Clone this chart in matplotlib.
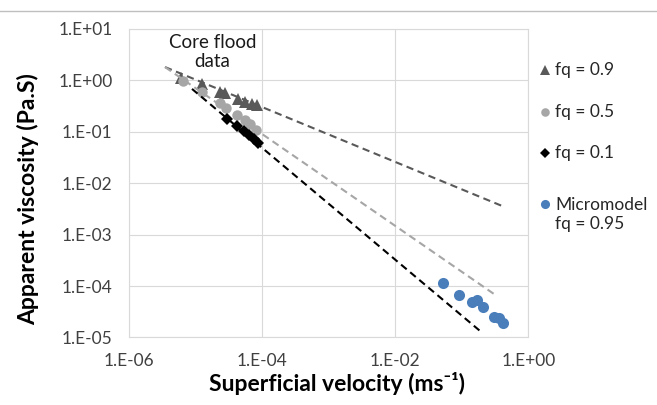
import numpy as np
import matplotlib
matplotlib.use('Agg')
import matplotlib.pyplot as plt
from matplotlib.lines import Line2D
from matplotlib.ticker import FixedLocator, FuncFormatter

plt.rcParams['font.family'] = ['Lato', 'DejaVu Sans']

# Core flood data (superficial velocity in m/s, apparent viscosity in Pa.s)
u_fq09 = [6.1e-6, 1.27e-5, 2.36e-5, 2.80e-5, 4.39e-5, 5.59e-5, 7.14e-5, 8.49e-5]
mu_fq09 = [1.11, 0.851, 0.595, 0.569, 0.435, 0.380, 0.348, 0.333]

u_fq05 = [6.6e-6, 1.27e-5, 2.36e-5, 2.90e-5, 4.25e-5, 5.59e-5, 6.67e-5, 8.20e-5]
mu_fq05 = [0.975, 0.595, 0.364, 0.291, 0.213, 0.170, 0.142, 0.109]

u_fq01 = [3.01e-5, 4.25e-5, 5.40e-5, 6.44e-5, 7.66e-5, 8.79e-5]
mu_fq01 = [0.178, 0.130, 0.104, 0.0868, 0.0726, 0.0607]

# Micromodel data
u_micro = [0.0525, 0.0912, 0.143, 0.170, 0.209, 0.306, 0.364, 0.418]
mu_micro = [1.15e-4, 6.71e-5, 4.91e-5, 5.37e-5, 3.92e-5, 2.51e-5, 2.40e-5, 1.92e-5]

# Power-law trendlines mu = a * u^b (fq = 0.9, 0.5, 0.1) and their x ranges
fit_a = [2.23e-3, 2.43e-5, 2.18e-6]
fit_b = [-0.534, -0.894, -1.089]
fit_umin = [3.53e-6, 3.53e-6, 8.97e-6]
fit_umax = [0.404, 0.306, 0.188]
fit_colors = ['#595959', '#a6a6a6', '#000000']

legend_labels = ['fq = 0.9', 'fq = 0.5', 'fq = 0.1', 'Micromodel\nfq = 0.95']

styles = [
    dict(marker='^', color='#595959', markersize=8.5),
    dict(marker='o', color='#a6a6a6', markersize=7.5),
    dict(marker='D', color='#000000', markersize=6.3),
    dict(marker='o', color='#4a7ebb', markersize=8),
]

fig = plt.figure(figsize=(6.57, 4.05), dpi=100)
ax = fig.add_axes([0.1956, 0.1667, 0.6085, 0.7617])

series = [(u_fq09, mu_fq09), (u_fq05, mu_fq05), (u_fq01, mu_fq01), (u_micro, mu_micro)]
for (u, mu), st in zip(series, styles):
    ax.plot(u, mu, linestyle='none', markeredgewidth=0, zorder=3, **st)

# trendlines on top of markers, like Excel
for a, b, u0, u1, c in zip(fit_a, fit_b, fit_umin, fit_umax, fit_colors):
    uu = np.logspace(np.log10(u0), np.log10(u1), 50)
    ax.plot(uu, a * uu ** b, color=c, linewidth=1.5, linestyle=(0, (3.5, 2.2)), zorder=4)

ax.set_xscale('log')
ax.set_yscale('log')
ax.set_xlim(1e-6, 1e0)
ax.set_ylim(1e-5, 1e1)
ax.xaxis.set_major_locator(FixedLocator([1e-6, 1e-4, 1e-2, 1e0]))
ax.yaxis.set_major_locator(FixedLocator([10.0 ** k for k in range(-5, 2)]))
ax.xaxis.set_minor_locator(FixedLocator([]))
ax.yaxis.set_minor_locator(FixedLocator([]))
fmt = FuncFormatter(lambda v, _: f'{v:.0E}'.replace('E', '.E'))
ax.xaxis.set_major_formatter(fmt)
ax.yaxis.set_major_formatter(fmt)
ax.tick_params(length=0, labelsize=12.5, labelcolor='#404040')
ax.tick_params(axis='y', pad=11.5)
ax.tick_params(axis='x', pad=11)

ax.grid(True, color='#d9d9d9', linewidth=0.8)
ax.set_axisbelow(True)
for s in ax.spines.values():
    s.set_color('#d9d9d9')
    s.set_linewidth(0.8)

ax.text(0.21, 0.925, 'Core flood\ndata', transform=ax.transAxes, ha='center', va='center',
        fontsize=13.5, color='#1a1a1a', linespacing=1.15)

# axis titles
fig.text(0.043, 0.509, 'Apparent viscosity (Pa.S)', rotation=90, ha='center', va='center',
         fontsize=16.5, fontweight='bold', color='#000000')
fig.text(0.513, 0.052, 'Superficial velocity (ms\u207b\u00b9)', ha='center', va='center',
         fontsize=16.5, fontweight='bold', color='#000000')

# legend on the right
leg_y = [0.8272, 0.7235, 0.6222, 0.4706]
for y, lab, st in zip(leg_y, legend_labels, styles):
    my = y + 0.0257 if '\n' in lab else y
    fig.add_artist(Line2D([0.8295], [my], transform=fig.transFigure, linestyle='none',
                          marker=st['marker'], color=st['color'],
                          markersize=st['markersize'] * 0.82, markeredgewidth=0))
    fig.text(0.8447, y, lab, ha='left', va='center', fontsize=12.5,
             color='#262626', linespacing=1.2)

# thin frame line across the top of the image
fig.add_artist(Line2D([0, 1], [0.9728, 0.9728], transform=fig.transFigure,
                      color='#bfbfbf', linewidth=1))

fig.savefig('out.png', dpi=100)
